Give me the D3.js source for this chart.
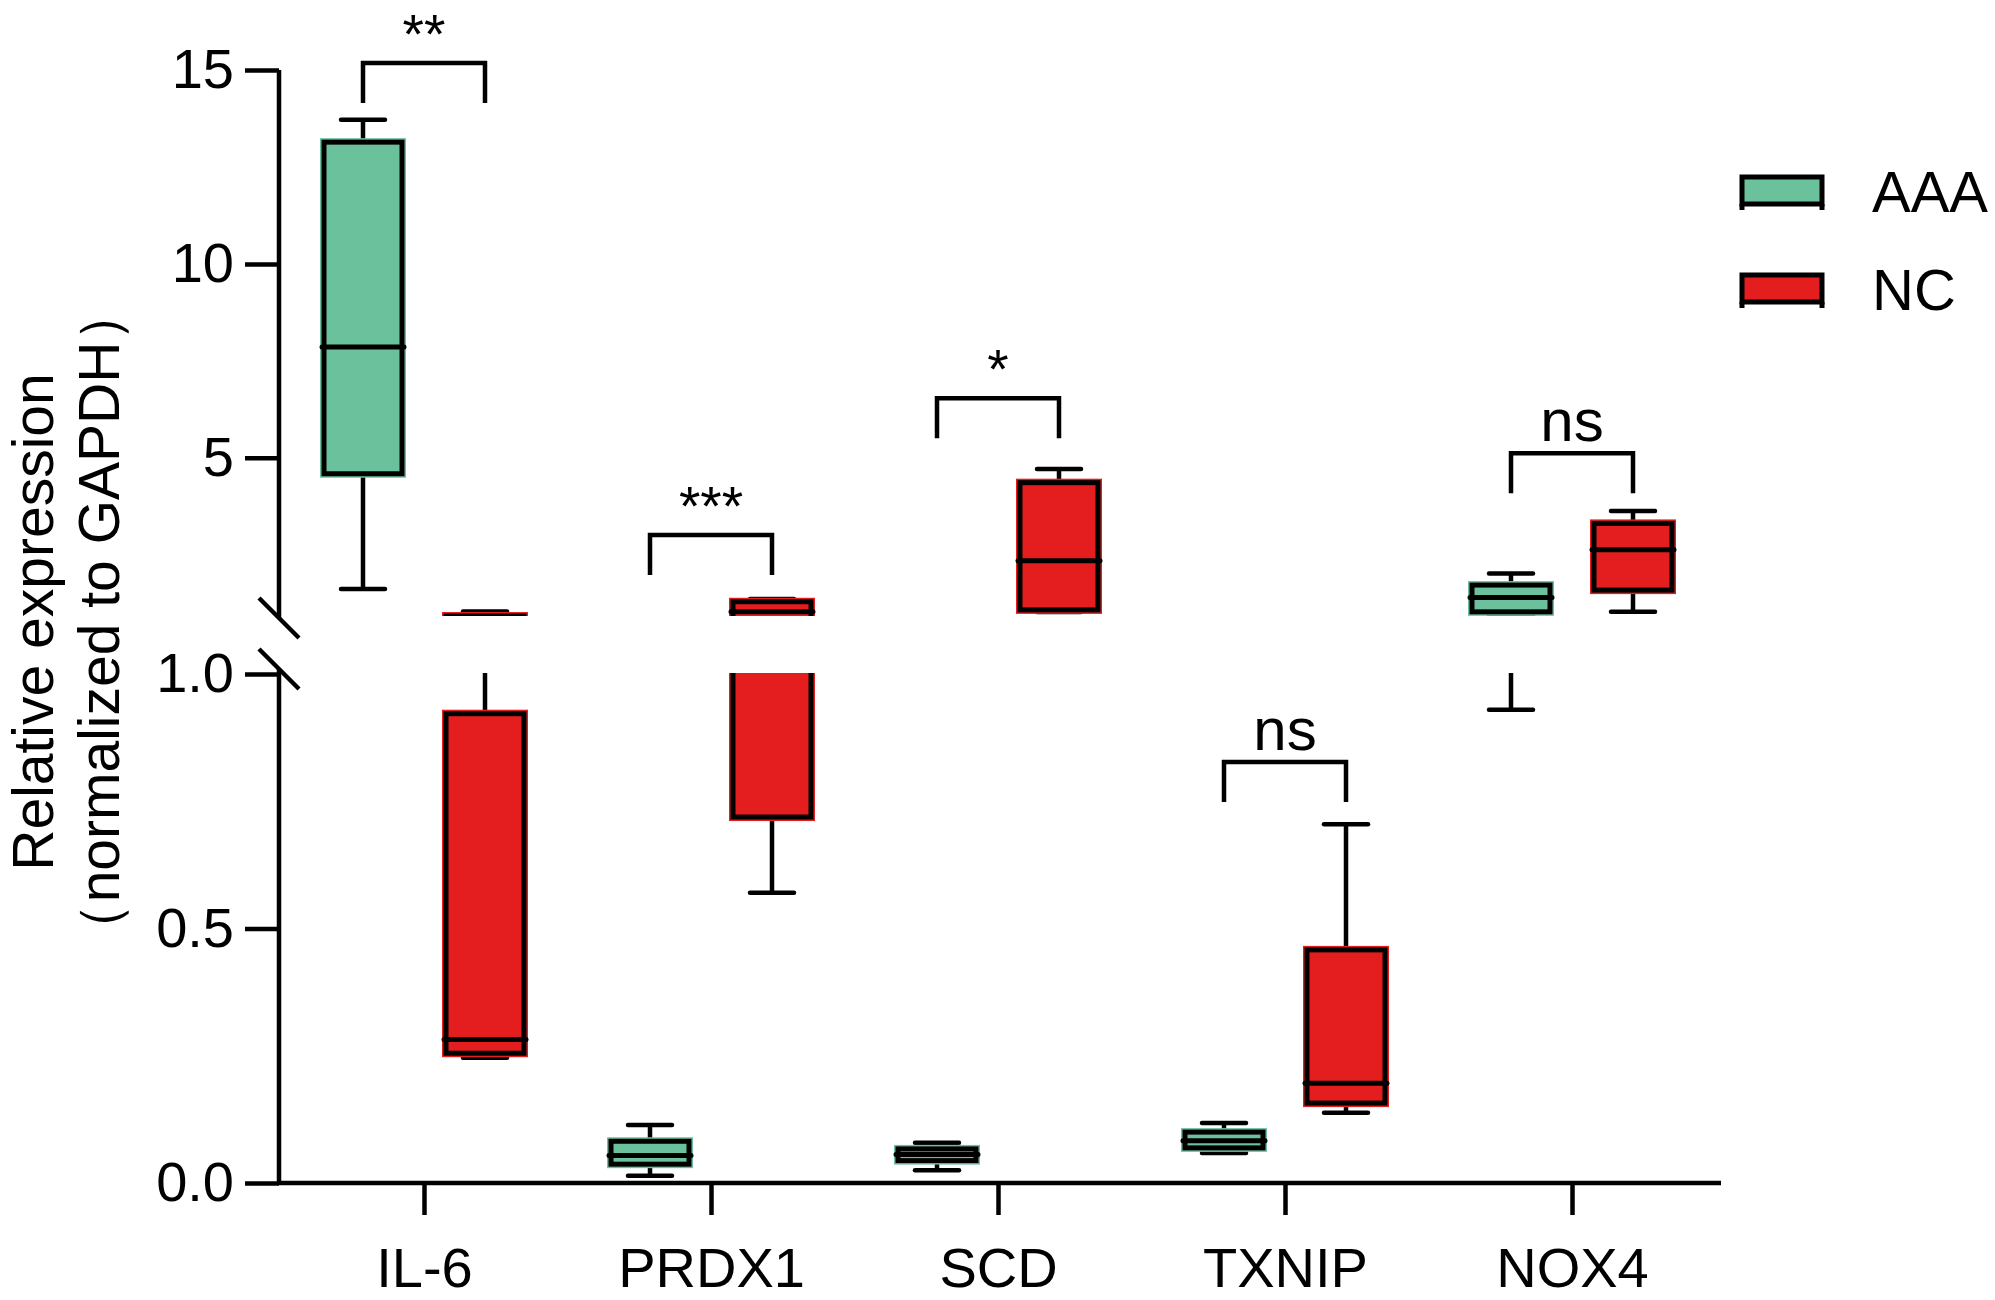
<!DOCTYPE html>
<html>
<head>
<meta charset="utf-8">
<script src="https://cdnjs.cloudflare.com/ajax/libs/d3/7.8.5/d3.min.js"></script>
<style>
body { margin: 0; background: #fff; }
text { font-family: "Liberation Sans", Arial, Helvetica, sans-serif; fill: #000; }
</style>
</head>
<body>
<script>

// categories and groups
var genes = ["IL-6", "PRDX1", "SCD", "TXNIP", "NOX4"];
var groupNames = ["AAA", "NC"];

// AAA box statistics
var aaaMin    = [1.62, 0.014, 0.025, 0.059, 0.930];
var aaaQ1     = [4.59, 0.037, 0.044, 0.069, 1.03];
var aaaMedian = [7.86, 0.054, 0.056, 0.083, 1.40];
var aaaQ3     = [13.14, 0.082, 0.067, 0.100, 1.72];
var aaaMax    = [13.72, 0.114, 0.079, 0.118, 2.02];

// NC box statistics
var ncMin    = [0.246, 0.570, 1.025, 0.138, 1.03];
var ncQ1     = [0.255, 0.719, 1.08, 0.157, 1.59];
var ncMedian = [0.282, 1.035, 2.35, 0.196, 2.63];
var ncQ3     = [0.922, 1.29, 4.36, 0.458, 3.31];
var ncMax    = [1.04, 1.36, 4.71, 0.705, 3.63];

// significance brackets
var sigLabels = ["**", "***", "*", "ns", "ns"];
var sigLevel  = [15.18, 3.01, 6.54, 0.827, 5.12];

// axis ticks
var upperTicks = [5, 10, 15];
var lowerTicks = [0, 0.5, 1.0];

var width = 1995;
var height = 1300;

var svg = d3.select("body").append("svg")
    .attr("width", width)
    .attr("height", height);

var axisX = 279;
var baseY = 1183;

// broken y axis: two linear segments
var yUp = d3.scaleLinear().domain([1, 15]).range([613, 70]);
var yLow = d3.scaleLinear().domain([0, 1]).range([baseY, 674]);
function yPos(v) { return v > 1 ? yUp(v) : yLow(v); }

var xScale = d3.scalePoint().domain(genes).range([424, 1572]);

var boxW = 78, capW = 44, boxOffset = 61;
var colors = { AAA: "#6cc19d", NC: "#e41e1e" };

var groups = [
    { name: "AAA", off: -boxOffset, min: aaaMin, q1: aaaQ1, med: aaaMedian, q3: aaaQ3, max: aaaMax },
    { name: "NC",  off:  boxOffset, min: ncMin,  q1: ncQ1,  med: ncMedian,  q3: ncQ3,  max: ncMax }
];

var defs = svg.append("defs");
defs.append("clipPath").attr("id", "clipUp")
    .append("rect").attr("x", 0).attr("y", 0).attr("width", width).attr("height", 616);
defs.append("clipPath").attr("id", "clipLow")
    .append("rect").attr("x", 0).attr("y", 673).attr("width", width).attr("height", height - 673);

function drawBoxes(scale, clipId) {
    var g = svg.append("g").attr("clip-path", "url(#" + clipId + ")");
    groups.forEach(function (grp) {
        genes.forEach(function (gene, i) {
            var cx = xScale(gene) + grp.off;
            // whisker
            g.append("line")
                .attr("x1", cx).attr("x2", cx)
                .attr("y1", scale(grp.max[i])).attr("y2", scale(grp.min[i]))
                .attr("stroke", "#000").attr("stroke-width", 4.5);
            [grp.max[i], grp.min[i]].forEach(function (v) {
                g.append("line")
                    .attr("x1", cx - capW / 2).attr("x2", cx + capW / 2)
                    .attr("y1", scale(v)).attr("y2", scale(v))
                    .attr("stroke", "#000").attr("stroke-width", 4.5)
                    .attr("stroke-linecap", "round");
            });
            var top = scale(grp.q3[i]), bot = scale(grp.q1[i]);
            // coloured rim under the black outline
            g.append("rect")
                .attr("x", cx - boxW / 2).attr("y", top)
                .attr("width", boxW).attr("height", bot - top)
                .attr("fill", colors[grp.name])
                .attr("stroke", colors[grp.name]).attr("stroke-width", 8);
            g.append("rect")
                .attr("x", cx - boxW / 2).attr("y", top)
                .attr("width", boxW).attr("height", bot - top)
                .attr("fill", "none")
                .attr("stroke", "#000").attr("stroke-width", 5);
            // median
            g.append("line")
                .attr("x1", cx - boxW / 2 - 2).attr("x2", cx + boxW / 2 + 2)
                .attr("y1", scale(grp.med[i])).attr("y2", scale(grp.med[i]))
                .attr("stroke", "#000").attr("stroke-width", 5)
                .attr("stroke-linecap", "round");
        });
    });
}

drawBoxes(yUp, "clipUp");
drawBoxes(yLow, "clipLow");

// y axes
function styleAxis(g, size) {
    g.select(".domain").remove();
    g.selectAll(".tick line").attr("stroke", "#000").attr("stroke-width", 4.5);
    g.selectAll(".tick text").attr("font-size", size + "px");
}

svg.append("g")
    .attr("transform", "translate(" + axisX + ",0)")
    .call(d3.axisLeft(yUp).tickValues(upperTicks).tickSize(34).tickPadding(11).tickFormat(d3.format("d")))
    .call(styleAxis, 56);

svg.append("g")
    .attr("transform", "translate(" + axisX + ",0)")
    .call(d3.axisLeft(yLow).tickValues(lowerTicks).tickSize(34).tickPadding(11).tickFormat(d3.format(".1f")))
    .call(styleAxis, 56);

var axisLines = [
    [axisX, yUp(15), axisX, 618],
    [axisX, 669, axisX, baseY + 2],
    [axisX - 2, baseY, 1721, baseY]
];
axisLines.forEach(function (l) {
    svg.append("line")
        .attr("x1", l[0]).attr("y1", l[1]).attr("x2", l[2]).attr("y2", l[3])
        .attr("stroke", "#000").attr("stroke-width", 4.5);
});

// break marks
[618, 669].forEach(function (cy) {
    svg.append("line")
        .attr("x1", axisX - 20).attr("y1", cy - 20)
        .attr("x2", axisX + 20).attr("y2", cy + 20)
        .attr("stroke", "#000").attr("stroke-width", 4.5);
});

// x axis
svg.append("g")
    .attr("transform", "translate(0," + baseY + ")")
    .call(d3.axisBottom(xScale).tickSize(32).tickPadding(32))
    .call(styleAxis, 56);

// y axis title
svg.append("text")
    .attr("transform", "translate(53,622) rotate(-90)")
    .attr("text-anchor", "middle")
    .attr("font-size", "57px")
    .text("Relative expression");
svg.append("text")
    .attr("transform", "translate(119,622) rotate(-90)")
    .attr("text-anchor", "middle")
    .attr("font-size", "57px")
    .text("（normalized to GAPDH）");

// significance brackets
genes.forEach(function (gene, i) {
    var x1 = xScale(gene) - boxOffset, x2 = xScale(gene) + boxOffset;
    var yb = yPos(sigLevel[i]);
    var isStar = sigLabels[i].indexOf("*") >= 0;
    svg.append("path")
        .attr("d", "M" + x1 + "," + (yb + 40) + "V" + yb + "H" + x2 + "V" + (yb + 40))
        .attr("fill", "none")
        .attr("stroke", "#000").attr("stroke-width", 4.5);
    svg.append("text")
        .attr("x", (x1 + x2) / 2)
        .attr("y", yb - (isStar ? 10 : 12))
        .attr("text-anchor", "middle")
        .attr("font-size", isStar ? "55px" : "60px")
        .text(sigLabels[i]);
});

// legend
var legend = svg.append("g").attr("transform", "translate(1742,177)");
groupNames.forEach(function (name, i) {
    var gy = i * 98;
    legend.append("rect")
        .attr("x", 0).attr("y", gy)
        .attr("width", 80).attr("height", 27)
        .attr("fill", colors[name])
        .attr("stroke", "#000").attr("stroke-width", 5);
    [0, 80].forEach(function (lx) {
        legend.append("line")
            .attr("x1", lx).attr("x2", lx)
            .attr("y1", gy + 27).attr("y2", gy + 33)
            .attr("stroke", "#000").attr("stroke-width", 5);
    });
    legend.append("text")
        .attr("x", 130).attr("y", gy + 35)
        .attr("font-size", "58px")
        .text(name);
});

</script>
</body>
</html>
